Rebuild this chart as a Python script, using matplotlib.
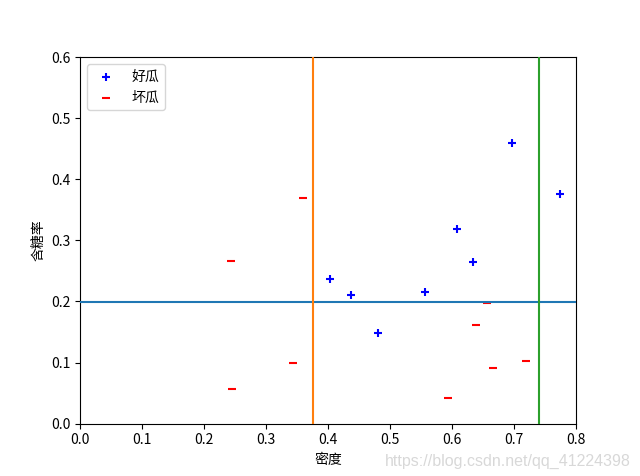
import matplotlib
matplotlib.use("Agg")
import matplotlib.pyplot as plt

plt.rcParams['font.family'] = ['Noto Sans CJK SC', 'DejaVu Sans']
plt.rcParams['axes.unicode_minus'] = False

# 西瓜数据集 3.0α
good_density = [0.697, 0.774, 0.634, 0.608, 0.556, 0.403, 0.481, 0.437]
good_sugar = [0.460, 0.376, 0.264, 0.318, 0.215, 0.237, 0.149, 0.211]
bad_density = [0.666, 0.243, 0.245, 0.343, 0.639, 0.657, 0.360, 0.593, 0.719]
bad_sugar = [0.091, 0.267, 0.057, 0.099, 0.161, 0.198, 0.370, 0.042, 0.103]

# 划分阈值
h_split = 0.1985
v_splits = [0.375, 0.740]

fig, ax = plt.subplots(figsize=(6.4, 4.76), dpi=100)
ax.scatter(good_density, good_sugar, marker='+', c='b', label='好瓜')
ax.scatter(bad_density, bad_sugar, marker='_', c='r', label='坏瓜')

ax.axhline(h_split, color='C0', zorder=3)
ax.axvline(v_splits[0], color='C1', zorder=3)
ax.axvline(v_splits[1], color='C2', zorder=3)

ax.set_xlim(0, 0.8)
ax.set_ylim(0, 0.6)
ax.set_xlabel('密度')
ax.set_ylabel('含糖率')
ax.legend(loc='upper left')

fig.text(0.985, 0.015, 'https://blog.csdn.net/qq_41224398', ha='right', va='bottom',
         color='#d8d8d8', fontsize=11.5, family=['Liberation Sans', 'DejaVu Sans'])

plt.savefig('out.png', dpi=100)
plt.close()
